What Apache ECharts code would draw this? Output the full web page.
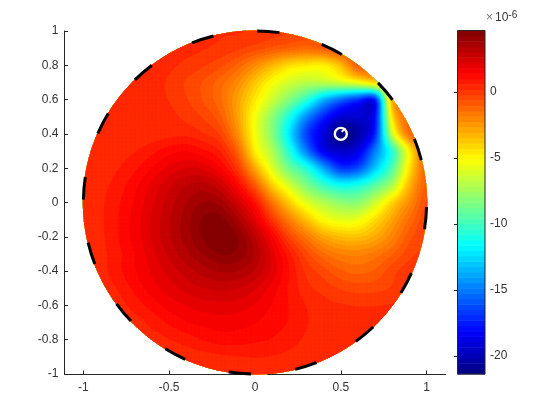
<!DOCTYPE html>
<html><head><meta charset="utf-8">
<style>html,body{margin:0;padding:0;background:#fff}#c{width:560px;height:420px}</style>
<script src="https://cdn.jsdelivr.net/npm/echarts@6/dist/echarts.min.js"></script>
</head><body><div id="c"></div>
<script>
// Field values (units of 1e-6), on a 0.1 grid, x = -1 .. 1
const gridX=[-1,-.9,-.8,-.7,-.6,-.5,-.4,-.3,-.2,-.1,0,.1,.2,.3,.4,.5,.6,.7,.8,.9,1];
const gridY=[1,.9,.8,.7,.6,.5,.4,.3,.2,.1,0,-.1,-.2,-.3,-.4,-.5,-.6,-.7,-.8,-.9,-1];
const yP10=[.3,.3,.3,.3,.3,.3,.3,.3,.2,.2,.1,-.05,-.2,-.4,-.7,-1,-1.2,-1.2,-1.2,-1.2,-1.2];
const yP09=[.3,.3,.3,.3,.3,.3,.3,.2,.05,-.15,-.45,-.8,-1.1,-1.3,-1,-.6,-.6,-.6,-.6,-.6,-.6];
const yP08=[.3,.3,.3,.3,.3,.25,.05,-.2,-.55,-1.2,-2.2,-3.3,-4.3,-4.7,-4.8,-3.5,-1,-1,-1,-1,-1];
const yP07=[.3,.3,.3,.3,.3,.1,-.3,-.7,-1.3,-2.2,-3.7,-5.2,-6.3,-6.9,-6.8,-6.3,-5.5,-4.2,-3,-2,-2];
const yP06=[.3,.3,.3,.3,.28,.15,-.2,-.7,-1.4,-2.8,-4.6,-6.4,-8.3,-10.5,-13.5,-15.5,-17,-17.5,-3,-2,-2];
const yP05=[.3,.3,.3,.3,.3,.28,.05,-.3,-1,-2.8,-5.4,-8,-11,-14.6,-17.3,-19.2,-19.2,-18,-4.5,-1.2,-1];
const yP04=[.3,.3,.3,.3,.32,.42,.45,.2,-.35,-2.3,-5.4,-8.2,-12.2,-16.5,-19,-21.3,-20.3,-17.3,-6.5,-1.5,-1];
const yP03=[.35,.35,.4,.55,.85,1.2,1.35,1.05,.5,-1.2,-4.8,-7.2,-10.8,-15,-18.5,-19.5,-18.8,-15,-10.5,-4.8,-.8];
const yP02=[.35,.38,.55,.9,1.4,1.9,2.2,2.1,1.4,-.1,-3,-6,-8.8,-10.8,-14,-16.8,-16.2,-13,-9.5,-4.5,-1];
const yP01=[.38,.45,.75,1.25,1.9,2.5,3,3.15,2.6,1.2,-.9,-3.9,-6.2,-8.4,-10.2,-11.4,-11,-9.4,-7.2,-3.3,-.9];
const yZ00=[.38,.5,.9,1.45,2.1,2.8,3.4,3.85,3.6,2.5,.9,-1.6,-3.9,-5.9,-7.1,-8,-8.1,-6.4,-4.1,-2.2,-.6];
const yN01=[.38,.5,.95,1.55,2.25,2.95,3.65,4.3,4.4,3.5,2,0,-1.9,-3.6,-5.2,-5.8,-5.6,-4.3,-2.8,-1.4,-.3];
const yN02=[.36,.48,.95,1.55,2.25,2.95,3.6,4.3,4.65,4.2,3,1.4,-.4,-1.7,-2.9,-3.5,-3.6,-3,-2,-.8,-.3];
const yN03=[.34,.45,.85,1.4,2.05,2.7,3.3,3.85,4.25,4.1,3.35,2,.7,-.5,-1.4,-1.9,-2,-1.7,-1.1,-.4,-.1];
const yN04=[.32,.4,.85,1.35,1.85,2.35,2.8,3.2,3.45,3.4,2.95,2.05,.95,.05,-.5,-1,-1.2,-1,-.4,0,.1];
const yN05=[.3,.33,.6,1.1,1.6,2,2.35,2.6,2.7,2.6,2.25,1.6,.9,.3,0,-.3,-.45,-.4,-.2,.1,.2];
const yN06=[.3,.3,.4,.75,1.15,1.55,1.8,2,2.05,2,1.75,1.35,.95,.55,.3,.2,.15,.15,.2,.3,.3];
const yN07=[.3,.3,.3,.4,.7,1.05,1.35,1.5,1.6,1.55,1.4,1.15,.95,.6,.4,.35,.3,.3,.3,.3,.3];
const yN08=[.3,.3,.3,.3,.38,.55,.75,1,1.15,1.15,1.05,.95,.75,.5,.4,.3,.3,.3,.3,.3,.3];
const yN09=[.3,.3,.3,.3,.3,.32,.36,.42,.5,.55,.58,.55,.45,.35,.3,.3,.3,.3,.3,.3,.3];
const yN10=[.3,.3,.3,.3,.3,.3,.3,.3,.3,.3,.3,.3,.3,.3,.3,.3,.3,.3,.3,.3,.3];
const fieldRows=[yP10,yP09,yP08,yP07,yP06,yP05,yP04,yP03,yP02,yP01,yZ00,yN01,yN02,yN03,yN04,yN05,yN06,yN07,yN08,yN09,yN10];

const colorMin=-21.37, colorMax=4.64, bandCount=64;
const xTicks=[-1,-.5,0,.5,1];
const yTicks=[-1,-.8,-.6,-.4,-.2,0,.2,.4,.6,.8,1];
const barTicks=[-20,-15,-10,-5,0];
// upper end (degrees, counter-clockwise from +x) of each dash of the outline
const dashEndDeg=[89.3,111.5,134.4,156.3,179,201,223.7,246,268.7,291,313.5,335.7,358.5,21.8,44.2,67.1];
const dashSpanDeg=7.5, outlineRadius=1;
const sourcePoint=[[.5,.4]];
const sourceTail=[[.505,.412],[.525,.432]];

function clamp(v){return Math.max(0,Math.min(1,v));}
function jet(i){const c=(i+.5)/bandCount;
  const r=clamp(Math.min(4*c-1.5,-4*c+4.5)),g=clamp(Math.min(4*c-.5,-4*c+3.5)),b=clamp(Math.min(4*c+.5,-4*c+2.5));
  return 'rgb('+[r,g,b].map(v=>Math.round(v*255)).join(',')+')';}
const step=(colorMax-colorMin)/bandCount;
const bands=[];for(let i=0;i<bandCount;i++)bands.push(i);

// Contour surface: a smooth Catmull-Rom patch through the values read above
const sub=4;
function cr(a,b,c,d,t){return .5*(2*b+(c-a)*t+(2*a-5*b+4*c-d)*t*t+(3*b-a-3*c+d)*t*t*t);}
function at(r,c){return fieldRows[Math.max(0,Math.min(gridY.length-1,r))][Math.max(0,Math.min(gridX.length-1,c))];}
function surf(u,v){const r=Math.floor(v),c=Math.floor(u),s=v-r,t=u-c,row=[];
  for(let k=-1;k<3;k++)row.push(cr(at(r+k,c-1),at(r+k,c),at(r+k,c+1),at(r+k,c+2),t));
  return Math.max(colorMin,Math.min(colorMax,cr(row[0],row[1],row[2],row[3],s)));}
const fx=[],fy=[],fv=[];
const nX=(gridX.length-1)*sub,nY=(gridY.length-1)*sub;
for(let c=0;c<=nX;c++)fx.push(gridX[0]+(gridX[gridX.length-1]-gridX[0])*c/nX);
for(let r=0;r<=nY;r++){fy.push(gridY[0]+(gridY[gridY.length-1]-gridY[0])*r/nY);const row=[];for(let c=0;c<=nX;c++)row.push(surf(c/sub,r/sub));fv.push(row);}

function clipLevel(p,t){const o=[];for(let k=0;k<p.length;k++){const a=p[k],b=p[(k+1)%p.length];
  const ia=a[2]>=t,ib=b[2]>=t;if(ia)o.push(a);
  if(ia!==ib){const s=(t-a[2])/(b[2]-a[2]);o.push([a[0]+s*(b[0]-a[0]),a[1]+s*(b[1]-a[1]),t]);}}return o;}
const discN=180;
function clipDisc(p){let q=p;const R=outlineRadius;for(let n=0;n<discN&&q.length;n++){const th=2*Math.PI*n/discN,cx=Math.cos(th),cy=Math.sin(th);
  const o=[];for(let k=0;k<q.length;k++){const a=q[k],b=q[(k+1)%q.length];const da=R-a[0]*cx-a[1]*cy,db=R-b[0]*cx-b[1]*cy;
    if(da>=0)o.push(a);if((da>=0)!==(db>=0)){const s=da/(da-db);o.push([a[0]+s*(b[0]-a[0]),a[1]+s*(b[1]-a[1]),a[2]+s*(b[2]-a[2])]);}}q=o;}return q;}

function bandPath(i,api){const t=colorMin+i*step;let d='';
  for(let r=0;r<nY;r++)for(let c=0;c<nX;c++){
    const q=[[fx[c],fy[r],fv[r][c]],[fx[c+1],fy[r],fv[r][c+1]],[fx[c+1],fy[r+1],fv[r+1][c+1]],[fx[c],fy[r+1],fv[r+1][c]]];
    if(q.every(a=>a[0]*a[0]+a[1]*a[1]>1.15))continue;
    if(i>0&&q.every(a=>a[2]<t))continue;
    let p=i===0?q:clipLevel(q,t);if(p.length<3)continue;
    if(q.some(a=>a[0]*a[0]+a[1]*a[1]>.98))p=clipDisc(p);if(p.length<3)continue;
    p.forEach((a,k)=>{const xy=api.coord([a[0],a[1]]);d+=(k?'L':'M')+xy[0].toFixed(2)+' '+xy[1].toFixed(2);});d+='Z';}
  return d;}

const txt='#333', line='#262626', font='"Liberation Sans"';
const option={animation:false,backgroundColor:'#fff',
 grid:[{left:64.5,top:31,width:381,height:343},{left:457.5,top:30.5,width:27.5,height:343.5}],
 xAxis:[{gridIndex:0,type:'value',min:-1.11,max:1.11,splitLine:{show:false},
   axisLine:{onZero:false,lineStyle:{color:line}},axisTick:{inside:true,length:3.5,customValues:xTicks,lineStyle:{color:line}},
   axisLabel:{customValues:xTicks,color:txt,fontFamily:font,fontSize:12,margin:8}},
  {gridIndex:1,type:'value',min:0,max:1,show:false}],
 yAxis:[{gridIndex:0,type:'value',min:-1,max:1,splitLine:{show:false},
   axisLine:{onZero:false,lineStyle:{color:line}},axisTick:{inside:true,length:3.5,customValues:yTicks,lineStyle:{color:line}},
   axisLabel:{customValues:yTicks,color:txt,fontFamily:font,fontSize:12,margin:6}},
  {gridIndex:1,type:'value',min:colorMin,max:colorMax,position:'right',splitLine:{show:false},
   axisLine:{show:false},axisTick:{inside:true,length:3.5,customValues:barTicks,lineStyle:{color:line}},
   axisLabel:{customValues:barTicks,color:txt,fontFamily:font,fontSize:12,margin:5}}],
 graphic:[{type:'text',left:486,top:10,style:{rich:{a:{fill:'#777',fontFamily:font,fontSize:12,padding:[0,2,0,0]},b:{fill:txt,fontFamily:font,fontSize:12},c:{fill:txt,fontFamily:font,fontSize:10,verticalAlign:'top',padding:[0,0,6,0]}},text:'{a|×}{b|10}{c|-6}'}}],
 series:[
  {type:'custom',name:'field',xAxisIndex:0,yAxisIndex:0,clip:false,silent:true,z:2,data:bands.map(i=>[i]),encode:{x:0,y:-1},
   renderItem:(p,api)=>{const i=api.value(0);const d=bandPath(i,api);const col=jet(i);
     return {type:'path',shape:{pathData:d||'M0 0'},style:{fill:col,stroke:col,lineWidth:.5}};}},
  {type:'custom',name:'outline',xAxisIndex:0,yAxisIndex:0,clip:false,silent:true,z:3,data:dashEndDeg.map(d=>[d]),encode:{x:0,y:-1},
   renderItem:(p,api)=>{const hi=api.value(0)*Math.PI/180,lo=hi-dashSpanDeg*Math.PI/180;
     const c=api.coord([0,0]),e=api.coord([outlineRadius,0]);
     return {type:'arc',shape:{cx:c[0],cy:c[1],r:e[0]-c[0],startAngle:-hi,endAngle:-lo,clockwise:true},style:{fill:null,stroke:'#000',lineWidth:3}};}},
  {type:'line',name:'tail',xAxisIndex:0,yAxisIndex:0,data:sourceTail,showSymbol:false,silent:true,z:4,lineStyle:{color:'#fff',width:2,opacity:1}},
  {type:'scatter',name:'source',xAxisIndex:0,yAxisIndex:0,data:sourcePoint,symbol:'circle',symbolSize:12,silent:true,z:4,itemStyle:{color:'rgba(0,0,0,0)',borderColor:'#fff',borderWidth:2.4,opacity:1}},
  {type:'custom',name:'bar',xAxisIndex:1,yAxisIndex:1,silent:true,z:2,data:bands.map(i=>[i]),encode:{x:-1,y:0},
   renderItem:(p,api)=>{const i=api.value(0);const a=api.coord([0,colorMin+i*step]),b=api.coord([1,colorMin+(i+1)*step]);
     return {type:'rect',shape:{x:a[0],y:b[1],width:b[0]-a[0],height:a[1]-b[1]+.5},style:{fill:jet(i)}};}},
  {type:'custom',name:'barFrame',xAxisIndex:1,yAxisIndex:1,silent:true,z:3,data:[[0]],encode:{x:-1,y:0},
   renderItem:(p,api)=>{const a=api.coord([0,colorMin]),b=api.coord([1,colorMax]);
     return {type:'rect',shape:{x:a[0],y:b[1],width:b[0]-a[0],height:a[1]-b[1]},style:{fill:null,stroke:line,lineWidth:1}};}}
 ]};
echarts.init(document.getElementById('c'),null,{renderer:'canvas'}).setOption(option);
</script></body></html>
